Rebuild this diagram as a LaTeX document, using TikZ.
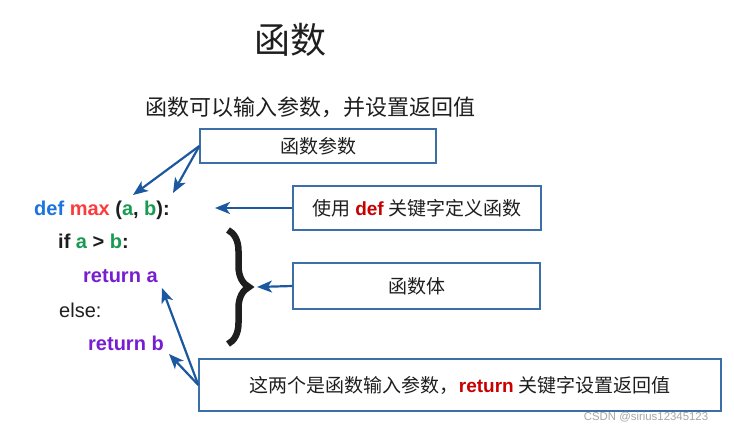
\documentclass[tikz,border=0pt]{standalone}
\usepackage{fontspec}
\setmainfont{Liberation Sans}
\newfontfamily\cjk{Noto Sans CJK SC}
\usepackage{tikz}
\usetikzlibrary{positioning,arrows.meta,decorations.pathreplacing}

\definecolor{boxblue}{RGB}{60,110,168}
\definecolor{arrowblue}{RGB}{28,88,160}
\definecolor{defblue}{RGB}{26,115,225}
\definecolor{maxred}{RGB}{250,60,60}
\definecolor{argreen}{RGB}{24,155,80}
\definecolor{retpurple}{RGB}{120,30,210}
\definecolor{kwred}{RGB}{200,0,0}
\definecolor{ink}{RGB}{30,30,30}

\begin{document}
\begin{tikzpicture}[x=1pt, y=-1pt,
    box/.style={rectangle, draw=boxblue, line width=1.3pt, inner sep=0pt, text=ink, font=\cjk\fontsize{19}{22}\selectfont},
    pointer/.style={-{Stealth[length=15pt,width=12pt,inset=4pt]}, draw=arrowblue, line width=2.2pt},
    code/.style={anchor=base west, inner sep=0pt, text=ink, font=\fontsize{20}{24}\selectfont\bfseries}]
        \useasboundingbox (0,0) rectangle (734,429);

        \node[font=\cjk\fontsize{36}{40}\selectfont, text=ink] (title) at (290,40) {函数};
        \node[font=\cjk\fontsize{22}{26}\selectfont, text=ink] (subtitle) at (310,107) {函数可以输入参数，并设置返回值};

        \node[code] (lineDef) at (34,215) {\textcolor{defblue}{def} \textcolor{maxred}{max} (\textcolor{argreen}{a}, \textcolor{argreen}{b}):};
        \node[code] (lineIf) at (58,248) {if \textcolor{argreen}{a} > \textcolor{argreen}{b}:};
        \node[code, text=retpurple] (lineRetA) at (83,282) {return a};
        \node[code, font=\fontsize{20}{24}\selectfont] (lineElse) at (59,317) {else:};
        \node[code, text=retpurple] (lineRetB) at (88,350) {return b};

        \node[box, minimum width=236pt, minimum height=34pt] (params) at (318,146) {函数参数};
        \node[box, minimum width=248pt, minimum height=44pt] (defkw) at (417,208) {使用 {\rmfamily\bfseries\textcolor{kwred}{def}} 关键字定义函数};
        \node[box, minimum width=247pt, minimum height=46pt] (body) at (416.5,286) {函数体};
        \node[box, minimum width=522pt, minimum height=52pt] (returns) at (460,385) {这两个是函数输入参数，{\rmfamily\bfseries\textcolor{kwred}{return}} 关键字设置返回值};

        \node[text=black!35, font=\fontsize{11.4}{13}\selectfont] (mark) at (646,417) {CSDN @sirius12345123};

        \coordinate (argA) at (133,195);
        \coordinate (argB) at (173,193);
        \coordinate (defEnd) at (215,208);
        \coordinate (braceTip) at (257,287);
        \coordinate (retA) at (162,288);
        \coordinate (retB) at (169,354);

        \draw[decorate, decoration={brace, amplitude=21pt}, line width=6.5pt, ink] (228,230) -- (228,344);

        \draw[pointer] (params.west) -- (argA);
        \draw[pointer] (params.west) -- (argB);
        \draw[pointer] (defkw.west) -- (defEnd);
        \draw[pointer] (body.west) -- (braceTip);
        \draw[pointer] (returns.west) -- (retA);
        \draw[pointer] (returns.west) -- (retB);
      \end{tikzpicture}
\end{document}
